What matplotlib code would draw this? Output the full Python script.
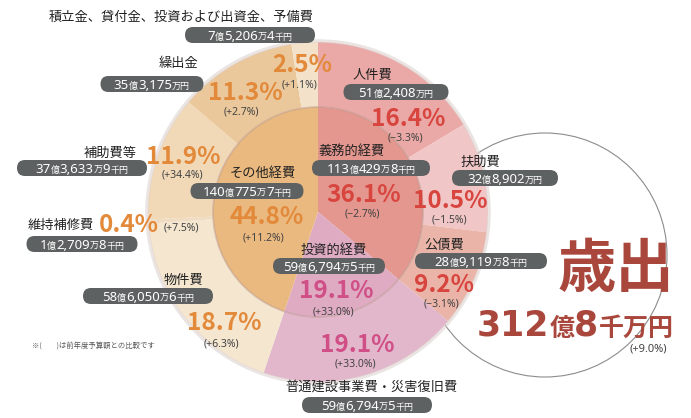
import re
import matplotlib.pyplot as plt
from matplotlib.patches import FancyBboxPatch, Circle

plt.rcParams['font.family'] = ['Noto Sans CJK JP', 'DejaVu Sans']

# outer ring: clockwise from 12 o'clock
outer_labels = ['人件費', '扶助費', '公債費', '普通建設事業費・災害復旧費', '物件費',
                '維持補修費', '補助費等', '繰出金', '積立金、貸付金、投資および出資金、予備費']
outer_pct = [16.4, 10.5, 9.2, 19.1, 18.7, 0.4, 11.9, 11.3, 2.5]
outer_change = ['−3.3', '−1.5', '−3.1', '+33.0', '+6.3', '+7.5', '+34.4', '+2.7', '+1.1']
outer_amount = ['51億2,408万円', '32億8,902万円', '28億9,119万8千円', '59億6,794万5千円',
                '58億6,050万6千円', '1億2,709万8千円', '37億3,633万9千円', '35億3,175万円',
                '7億5,206万4千円']

# inner pie
inner_labels = ['義務的経費', '投資的経費', 'その他経費']
inner_pct = [36.1, 19.1, 44.8]
inner_change = ['−2.7', '+33.0', '+11.2']
inner_amount = ['113億429万8千円', '59億6,794万5千円', '140億775万7千円']

total_label = '歳出'
total_parts = ['312', '億', '8', '千万円']
total_change = '+9.0'

outer_colors = ['#eaa9a6', '#f0c6c6', '#eab5a8', '#e3b7cb', '#f4e6cf',
                '#f0dcc2', '#f1d9b7', '#eac89b', '#f3e2c9']
inner_colors = ['#e3978f', '#dfabc3', '#eab97f']
RED, PINK, ORANGE = '#d8453f', '#cf4f86', '#e2893a'
outer_tc = [RED, RED, RED, PINK, ORANGE, ORANGE, ORANGE, ORANGE, ORANGE]
inner_tc = [RED, PINK, ORANGE]

# label layout (pixels from top-left): name, pill (cx, cy, w), pct, change
outer_pos = [
    ((372, 75), (396, 92, 105), (408, 118), (405, 138)),
    ((480, 162), (505, 178, 106), (450, 199), (449, 220)),
    ((444, 245), (481, 261, 132), (444, 284), (442, 304)),
    ((371, 387), (367, 405, 130), (357, 343), (355, 364)),
    ((183, 280), (148, 296, 130), (224, 322), (221, 344)),
    ((61, 225), (82, 244, 111), (129, 223), (181, 228)),
    ((110, 153), (82, 168, 130), (183, 155), (182, 175)),
    ((178, 64), (152, 84, 103), (245, 92), (241, 112)),
    ((181, 17), (250, 35, 130), (302, 63), (300, 85)),
]
inner_pos = [
    ((351, 151), (371, 168, 118), (364, 194), (362, 214)),
    ((334, 250), (329, 266, 112), (336, 290), (333, 312)),
    ((263, 173), (247, 191, 113), (267, 216), (264, 238)),
]

W, H = 691, 418
CX, CY = 318, 212
R_OUT, R_IN = 170, 105

fig = plt.figure(figsize=(W / 100, H / 100), dpi=100)
ax = fig.add_axes([0, 0, 1, 1])

# y axis is inverted below, so startangle=-90 + counterclock gives clockwise from top
ax.pie(outer_pct, radius=R_OUT, center=(CX, CY), startangle=-90, counterclock=True,
       colors=outer_colors, wedgeprops=dict(width=R_OUT - R_IN, linewidth=0))
ax.pie(inner_pct, radius=R_IN, center=(CX, CY), startangle=-90, counterclock=True,
       colors=inner_colors, wedgeprops=dict(linewidth=0))
ax.set_xlim(0, W)
ax.set_ylim(H, 0)
ax.set_aspect('auto')
ax.axis('off')

ax.add_patch(Circle((CX, CY), R_OUT + 1, fill=False, ec='#ddd2d0', lw=2.5, alpha=0.6, zorder=3))
ax.add_patch(Circle((CX, CY), R_IN, fill=False, ec='#b8968c', lw=1.3, alpha=0.45, zorder=3))
ax.add_patch(Circle((545, 255), 122, fill=False, ec='#8c8c8c', lw=0.8, zorder=0.5))

renderer = fig.canvas.get_renderer()
CJK = ['Noto Sans CJK JP', 'DejaVu Sans']
LAT = ['Noto Sans', 'DejaVu Sans']
WIDE = ['DejaVu Sans']


def rich(x, base, parts, ha='center'):
    arts = []
    for s, size, color, weight, fam in parts:
        arts.append(ax.text(0, base, s, fontsize=size, color=color, fontweight=weight,
                            family=fam, ha='left', va='baseline', zorder=7))
    widths = [a.get_window_extent(renderer).width for a in arts]
    x0 = x - sum(widths) / 2 if ha == 'center' else x
    for a, w in zip(arts, widths):
        a.set_x(x0)
        x0 += w


def pill(cx, cy, w, amount):
    h = 16
    ax.add_patch(FancyBboxPatch((cx - w / 2, cy - h / 2), w, h,
                                boxstyle='round,pad=0,rounding_size=8',
                                fc='#5e6161', ec='none', zorder=6))
    parts = []
    for s in re.findall(r'[0-9,]+|[^0-9,]+', amount):
        if s[0].isdigit():
            parts.append((s, 9.5, 'white', 'normal', LAT))
        else:
            parts.append((s, 6.5, 'white', 'normal', CJK))
    rich(cx, cy + 4.7, parts)


def block(label, pct, chg, amount, pos, color):
    (nx, ny), (px, py, pw), (qx, qy), (cx, cy) = pos
    ax.text(nx, ny, label, fontsize=9.5, color='#222222', ha='center', va='center', zorder=7)
    pill(px, py, pw, amount)
    ax.text(qx, qy + 8.5, f'{pct:.1f}%', fontsize=17.5, color=color, fontweight='bold',
            family=CJK, ha='center', va='baseline', zorder=7)
    ax.text(cx, cy, f'({chg}%)', fontsize=7.5, color='#444444',
            family=LAT, ha='center', va='center', zorder=7)


for i in range(len(outer_labels)):
    block(outer_labels[i], outer_pct[i], outer_change[i], outer_amount[i], outer_pos[i], outer_tc[i])
for i in range(len(inner_labels)):
    block(inner_labels[i], inner_pct[i], inner_change[i], inner_amount[i], inner_pos[i], inner_tc[i])

# total
BROWN = '#a9473d'
ax.text(616, 270, total_label, fontsize=42, color=BROWN, fontweight='bold',
        ha='center', va='center', zorder=7)
rich(477, 336, [(total_parts[0], 25, BROWN, 'bold', WIDE),
                (total_parts[1], 18, BROWN, 'bold', CJK),
                (total_parts[2], 25, BROWN, 'bold', WIDE),
                (total_parts[3], 18, BROWN, 'bold', CJK)], ha='left')
ax.text(648, 349, f'({total_change}%)', fontsize=8, color='#444444',
        family=LAT, ha='center', va='center', zorder=7)

ax.text(93, 347, '※(　　)は前年度予算額との比較です', fontsize=5.3, color='#555555',
        ha='center', va='center', zorder=7)

fig.savefig('out.png', dpi=100, facecolor='white')
